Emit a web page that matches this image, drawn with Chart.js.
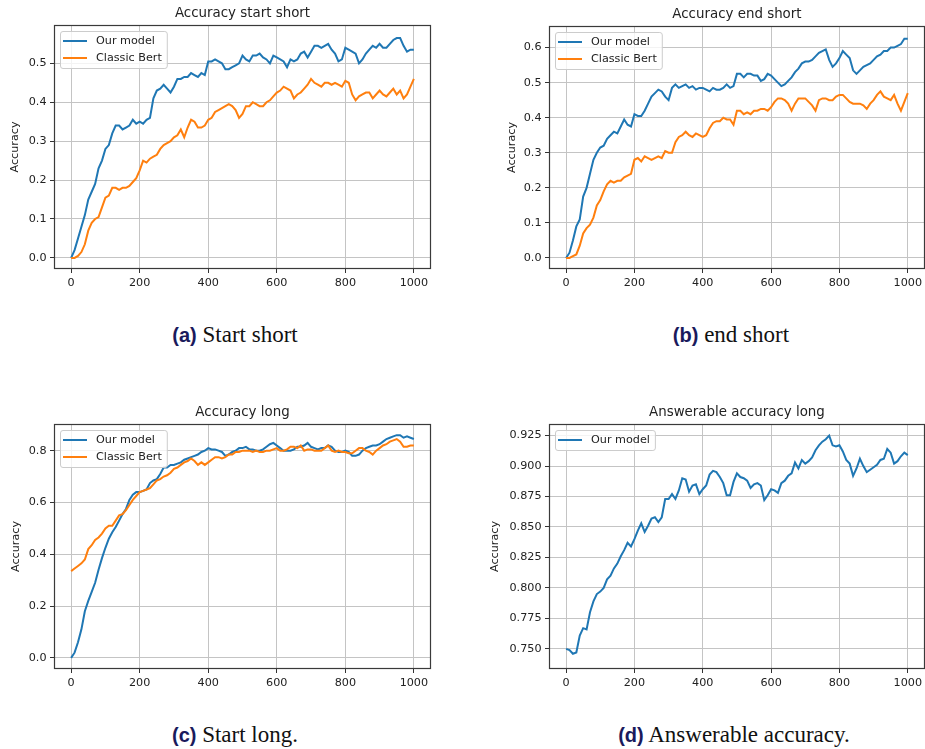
<html>
<head>
  <style>
    body{
      margin: 0;
      background-color: #FFFFFF;
      width: 925px;
      height: 749px;
      position: relative;
      overflow: hidden;
    }
    canvas{
      position: absolute;
    }
    .caption{
      position: absolute;
      width: 400px;
      text-align: center;
      font-family: "Liberation Serif", serif;
      font-size: 23px;
      color: #111;
      white-space: nowrap;
    }
    .caption b{
      font-family: "Liberation Sans", Arial, sans-serif;
      font-size: 20px;
      color: #1a1a5c;
    }
  </style>
  <script src="https://cdn.jsdelivr.net/npm/chart.js"></script>
</head>
<body>

<canvas id="chartA" width="460" height="300" style="left:0px;top:0px"></canvas>
<canvas id="chartB" width="435" height="300" style="left:490px;top:0px"></canvas>
<canvas id="chartC" width="460" height="300" style="left:0px;top:395px"></canvas>
<canvas id="chartD" width="445" height="300" style="left:480px;top:395px"></canvas>

<div class="caption" style="left:35px;top:322px"><b>(a)</b> Start short</div>
<div class="caption" style="left:531px;top:322px"><b>(b)</b> end short</div>
<div class="caption" style="left:35px;top:722px"><b>(c)</b> Start long.</div>
<div class="caption" style="left:534px;top:722px"><b>(d)</b> Answerable accuracy.</div>

<script>
  // values read every 10 steps
  var startShortOurs = [0, 0.02, 0.05, 0.08, 0.11, 0.15, 0.17, 0.19, 0.23, 0.25,
    0.28, 0.29, 0.32, 0.34, 0.34, 0.33, 0.335, 0.34, 0.355, 0.345,
    0.35, 0.345, 0.355, 0.36, 0.41, 0.43, 0.435, 0.445, 0.435, 0.425,
    0.44, 0.46, 0.46, 0.465, 0.465, 0.475, 0.47, 0.465, 0.475, 0.47,
    0.505, 0.505, 0.51, 0.505, 0.50, 0.485, 0.485, 0.49, 0.495, 0.50,
    0.52, 0.51, 0.505, 0.52, 0.52, 0.525, 0.515, 0.51, 0.50, 0.52,
    0.515, 0.51, 0.505, 0.49, 0.51, 0.505, 0.51, 0.525, 0.53, 0.515,
    0.53, 0.545, 0.545, 0.54, 0.545, 0.55, 0.535, 0.525, 0.505, 0.51,
    0.54, 0.535, 0.53, 0.525, 0.50, 0.51, 0.525, 0.535, 0.545, 0.54,
    0.55, 0.54, 0.54, 0.55, 0.56, 0.565, 0.565, 0.545, 0.53, 0.535,
    0.535];
  var startShortBert = [0, 0, 0.005, 0.015, 0.035, 0.07, 0.09, 0.10, 0.105, 0.13,
    0.155, 0.16, 0.18, 0.18, 0.175, 0.18, 0.18, 0.185, 0.195, 0.205,
    0.225, 0.25, 0.245, 0.255, 0.26, 0.265, 0.28, 0.29, 0.295, 0.30,
    0.31, 0.315, 0.33, 0.31, 0.335, 0.355, 0.35, 0.335, 0.335, 0.34,
    0.355, 0.36, 0.375, 0.38, 0.385, 0.39, 0.395, 0.39, 0.38, 0.36,
    0.37, 0.39, 0.39, 0.40, 0.395, 0.39, 0.39, 0.40, 0.405, 0.415,
    0.425, 0.43, 0.44, 0.435, 0.43, 0.41, 0.42, 0.425, 0.435, 0.445,
    0.46, 0.45, 0.445, 0.44, 0.45, 0.45, 0.445, 0.45, 0.445, 0.44,
    0.455, 0.45, 0.42, 0.405, 0.415, 0.42, 0.425, 0.425, 0.41, 0.42,
    0.43, 0.42, 0.415, 0.425, 0.435, 0.42, 0.43, 0.41, 0.42, 0.44,
    0.46];
  var endShortOurs = [0, 0.015, 0.05, 0.09, 0.11, 0.175, 0.20, 0.24, 0.28, 0.30,
    0.315, 0.32, 0.34, 0.35, 0.36, 0.355, 0.375, 0.395, 0.38, 0.375,
    0.41, 0.405, 0.405, 0.42, 0.44, 0.46, 0.47, 0.48, 0.475, 0.46,
    0.45, 0.485, 0.495, 0.485, 0.49, 0.495, 0.485, 0.49, 0.48, 0.485,
    0.485, 0.48, 0.475, 0.485, 0.48, 0.48, 0.485, 0.495, 0.485, 0.49,
    0.525, 0.525, 0.515, 0.525, 0.525, 0.52, 0.52, 0.505, 0.51, 0.525,
    0.52, 0.51, 0.50, 0.49, 0.495, 0.505, 0.515, 0.53, 0.54, 0.555,
    0.56, 0.56, 0.565, 0.575, 0.585, 0.59, 0.595, 0.565, 0.545, 0.555,
    0.57, 0.59, 0.58, 0.57, 0.535, 0.525, 0.535, 0.545, 0.55, 0.555,
    0.565, 0.575, 0.58, 0.59, 0.59, 0.60, 0.60, 0.605, 0.61, 0.625,
    0.625];
  var endShortBert = [0, 0, 0.005, 0.01, 0.035, 0.07, 0.085, 0.095, 0.115, 0.15,
    0.165, 0.19, 0.21, 0.22, 0.215, 0.22, 0.22, 0.23, 0.235, 0.24,
    0.28, 0.285, 0.275, 0.29, 0.285, 0.28, 0.285, 0.29, 0.285, 0.305,
    0.30, 0.30, 0.33, 0.345, 0.35, 0.36, 0.35, 0.345, 0.355, 0.35,
    0.345, 0.35, 0.37, 0.385, 0.39, 0.39, 0.40, 0.395, 0.395, 0.38,
    0.42, 0.42, 0.41, 0.415, 0.41, 0.42, 0.42, 0.425, 0.425, 0.42,
    0.43, 0.445, 0.455, 0.455, 0.45, 0.44, 0.42, 0.44, 0.455, 0.455,
    0.455, 0.445, 0.435, 0.42, 0.45, 0.455, 0.455, 0.45, 0.45, 0.46,
    0.465, 0.465, 0.455, 0.445, 0.44, 0.44, 0.44, 0.435, 0.425, 0.44,
    0.45, 0.465, 0.475, 0.46, 0.455, 0.45, 0.465, 0.44, 0.42, 0.445,
    0.47];
  var longOurs = [0, 0.02, 0.06, 0.11, 0.18, 0.22, 0.255, 0.29, 0.34, 0.385,
    0.425, 0.46, 0.485, 0.505, 0.53, 0.555, 0.575, 0.61, 0.63, 0.64,
    0.64, 0.645, 0.65, 0.675, 0.685, 0.69, 0.71, 0.735, 0.735, 0.745,
    0.745, 0.75, 0.755, 0.765, 0.77, 0.775, 0.78, 0.785, 0.795, 0.80,
    0.81, 0.805, 0.805, 0.80, 0.795, 0.78, 0.785, 0.795, 0.80, 0.81,
    0.81, 0.815, 0.805, 0.805, 0.80, 0.80, 0.805, 0.815, 0.825, 0.83,
    0.82, 0.81, 0.80, 0.80, 0.80, 0.805, 0.815, 0.815, 0.82, 0.83,
    0.815, 0.81, 0.805, 0.81, 0.81, 0.82, 0.815, 0.80, 0.795, 0.795,
    0.80, 0.795, 0.78, 0.78, 0.785, 0.80, 0.81, 0.815, 0.82, 0.82,
    0.825, 0.835, 0.845, 0.85, 0.855, 0.86, 0.86, 0.85, 0.855, 0.85,
    0.845];
  var longBert = [0.335, 0.345, 0.355, 0.365, 0.38, 0.42, 0.435, 0.455, 0.465, 0.48,
    0.50, 0.51, 0.51, 0.53, 0.55, 0.555, 0.57, 0.59, 0.61, 0.625,
    0.64, 0.645, 0.65, 0.655, 0.67, 0.685, 0.69, 0.70, 0.705, 0.715,
    0.73, 0.735, 0.745, 0.755, 0.76, 0.77, 0.76, 0.745, 0.755, 0.745,
    0.755, 0.765, 0.775, 0.775, 0.77, 0.775, 0.785, 0.785, 0.795, 0.795,
    0.80, 0.80, 0.80, 0.795, 0.80, 0.795, 0.795, 0.80, 0.80, 0.805,
    0.81, 0.80, 0.80, 0.805, 0.815, 0.815, 0.81, 0.82, 0.80, 0.805,
    0.805, 0.80, 0.80, 0.80, 0.81, 0.82, 0.80, 0.795, 0.80, 0.795,
    0.795, 0.79, 0.79, 0.80, 0.81, 0.81, 0.80, 0.795, 0.785, 0.80,
    0.81, 0.82, 0.825, 0.835, 0.84, 0.845, 0.835, 0.815, 0.815, 0.82,
    0.82];
  var answerableOurs = [0.75, 0.749, 0.746, 0.747, 0.761, 0.767, 0.766, 0.78, 0.789, 0.795,
    0.797, 0.80, 0.807, 0.81, 0.816, 0.82, 0.826, 0.831, 0.837, 0.834,
    0.84, 0.847, 0.853, 0.846, 0.851, 0.857, 0.858, 0.854, 0.858, 0.873,
    0.873, 0.877, 0.873, 0.88, 0.89, 0.889, 0.879, 0.884, 0.885, 0.877,
    0.881, 0.884, 0.893, 0.896, 0.895, 0.891, 0.886, 0.876, 0.876, 0.887,
    0.894, 0.891, 0.89, 0.888, 0.882, 0.885, 0.886, 0.884, 0.872, 0.876,
    0.881, 0.88, 0.878, 0.886, 0.888, 0.892, 0.894, 0.903, 0.898, 0.905,
    0.902, 0.904, 0.907, 0.913, 0.917, 0.92, 0.922, 0.925, 0.917, 0.916,
    0.917, 0.912, 0.905, 0.902, 0.892, 0.898, 0.906, 0.9, 0.895, 0.897,
    0.899, 0.901, 0.905, 0.906, 0.914, 0.911, 0.902, 0.904, 0.908, 0.911,
    0.909];
  var steps = startShortOurs.map((_, i) => i * 10);

  var xTicks = [0, 200, 400, 600, 800, 1000];
  var yTicksStartShort = [0.0, 0.1, 0.2, 0.3, 0.4, 0.5];
  var yTicksEndShort = [0.0, 0.1, 0.2, 0.3, 0.4, 0.5, 0.6];
  var yTicksLong = [0.0, 0.2, 0.4, 0.6, 0.8];
  var yTicksAnswerable = [0.750, 0.775, 0.800, 0.825, 0.850, 0.875, 0.900, 0.925];

  var BLUE = "#1f77b4";
  var ORANGE = "#ff7f0e";
  var FONT = "DejaVu Sans";

  // title, frame and matplotlib style legend
  var mplPlugin = {
    id: 'mpl',
    afterDatasetsDraw(chart) {
      var a = chart.chartArea, c = chart.ctx;
      c.save();
      c.strokeStyle = "#3a3a3a";
      c.lineWidth = 1.2;
      c.strokeRect(Math.round(a.left) + 0.5, Math.round(a.top) + 0.5,
        Math.round(a.right - a.left) - 1, Math.round(a.bottom - a.top) - 1);

      c.fillStyle = "#222";
      c.font = "13.4px " + FONT;
      c.textAlign = "center";
      c.textBaseline = "middle";
      c.fillText(chart.options.plugins.mpl.title, (a.left + a.right) / 2, a.top - 11);

      // legend
      var ds = chart.data.datasets;
      c.font = "11.2px " + FONT;
      var tw = Math.max(...ds.map(d => c.measureText(d.label).width));
      var bx = a.left + 6, by = a.top + 6;
      var bw = 36 + tw + 5, bh = 20 + (ds.length - 1) * 17;
      c.beginPath();
      c.roundRect(bx + 0.5, by + 0.5, bw, bh, 2.5);
      c.fillStyle = "rgba(255,255,255,0.8)";
      c.fill();
      c.strokeStyle = "#cccccc";
      c.lineWidth = 1;
      c.stroke();
      ds.forEach((d, i) => {
        var yy = by + 10 + i * 17;
        c.beginPath();
        c.moveTo(bx + 3, yy);
        c.lineTo(bx + 27, yy);
        c.strokeStyle = d.borderColor;
        c.lineWidth = 2;
        c.stroke();
        c.fillStyle = "#222";
        c.textAlign = "left";
        c.fillText(d.label, bx + 36, yy + 0.5);
      });
      c.restore();
    }
  };

  function makeChart(id, title, series, yTicks, yMin, yMax, decimals, area, yTitlePad) {
    var cv = document.getElementById(id);
    var W = cv.width, H = cv.height;
    var datasets = series.map(s => ({
      label: s.label,
      data: s.data,
      borderColor: s.color,
      backgroundColor: s.color,
      borderWidth: 2,
      pointRadius: 0,
      tension: 0,
      order: s.order
    }));
    return new Chart(cv, {
      type: 'line',
      data: { labels: steps, datasets: datasets },
      plugins: [mplPlugin],
      options: {
        responsive: false,
        animation: false,
        events: [],
        layout: { padding: { left: 0, top: area.top, right: W - area.right, bottom: 0 } },
        plugins: {
          legend: { display: false },
          tooltip: { enabled: false },
          mpl: { title: title }
        },
        scales: {
          x: {
            type: 'linear',
            min: -50,
            max: 1050,
            afterFit: s => { s.height = H - area.bottom; },
            afterBuildTicks: s => { s.ticks = xTicks.map(v => ({ value: v })); },
            grid: { color: "#c4c4c4", lineWidth: 1, tickColor: "#333", tickLength: 4 },
            border: { display: false },
            ticks: {
              color: "#222",
              font: { family: FONT, size: 11.2 },
              padding: 3,
              maxRotation: 0,
              callback: v => String(v)
            }
          },
          y: {
            type: 'linear',
            min: yMin,
            max: yMax,
            afterFit: s => { s.width = area.left; },
            afterBuildTicks: s => { s.ticks = yTicks.map(v => ({ value: v })); },
            grid: { color: "#c4c4c4", lineWidth: 1, tickColor: "#333", tickLength: 4 },
            border: { display: false },
            ticks: {
              color: "#222",
              font: { family: FONT, size: 11.2 },
              padding: 3.5,
              callback: v => Number(v).toFixed(decimals)
            },
            title: {
              display: true,
              text: 'Accuracy',
              color: "#222",
              font: { family: FONT, size: 11.2 },
              padding: { top: yTitlePad, bottom: 0 }
            }
          }
        }
      }
    });
  }

  makeChart('chartA', 'Accuracy start short', [
    { label: 'Our model', data: startShortOurs, color: BLUE, order: 1 },
    { label: 'Classic Bert', data: startShortBert, color: ORANGE, order: 0 }
  ], yTicksStartShort, -0.0285, 0.5985, 1, { left: 54, top: 25, right: 431, bottom: 269 }, 8);

  makeChart('chartB', 'Accuracy end short', [
    { label: 'Our model', data: endShortOurs, color: BLUE, order: 1 },
    { label: 'Classic Bert', data: endShortBert, color: ORANGE, order: 0 }
  ], yTicksEndShort, -0.0315, 0.6615, 1, { left: 59, top: 26, right: 435, bottom: 269 }, 15);

  makeChart('chartC', 'Accuracy long', [
    { label: 'Our model', data: longOurs, color: BLUE, order: 1 },
    { label: 'Classic Bert', data: longBert, color: ORANGE, order: 0 }
  ], yTicksLong, -0.043, 0.903, 1, { left: 54, top: 29, right: 431, bottom: 274 }, 9);

  makeChart('chartD', 'Answerable accuracy long', [
    { label: 'Our model', data: answerableOurs, color: BLUE, order: 0 }
  ], yTicksAnswerable, 0.7335, 0.9345, 3, { left: 69, top: 29, right: 445, bottom: 274 }, 8);
</script>
</body>
</html>
